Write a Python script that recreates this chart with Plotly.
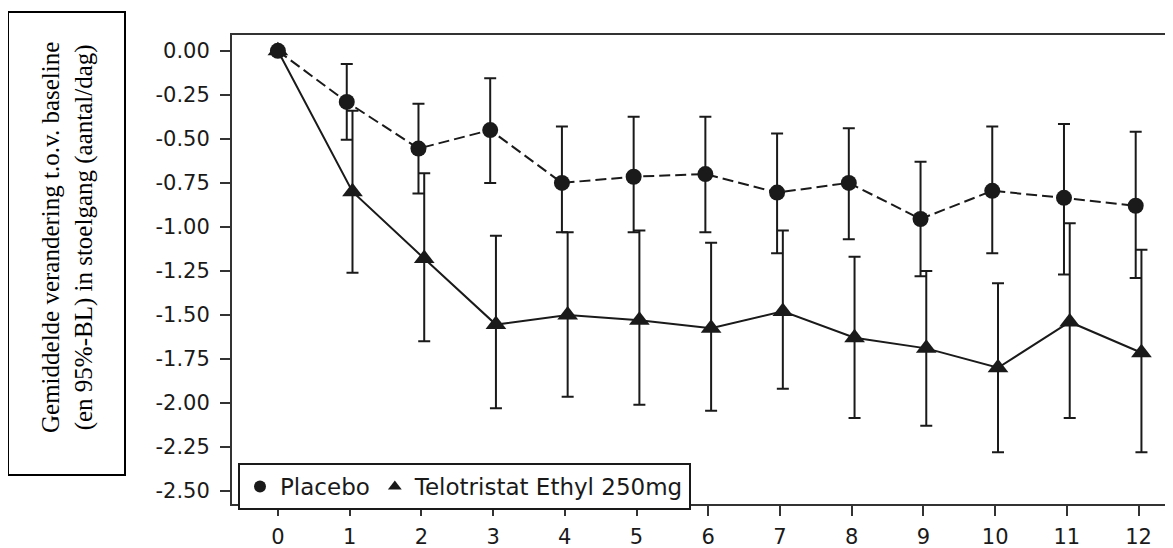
import plotly.graph_objects as go

weeks = [0, 1, 2, 3, 4, 5, 6, 7, 8, 9, 10, 11, 12]

placebo_mean = [0, -0.29, -0.555, -0.45, -0.75, -0.715, -0.70, -0.805, -0.75, -0.955, -0.795, -0.835, -0.88]
placebo_upper = [0, -0.075, -0.30, -0.155, -0.43, -0.375, -0.375, -0.47, -0.44, -0.63, -0.43, -0.415, -0.46]
placebo_lower = [0, -0.505, -0.81, -0.75, -1.03, -1.03, -1.03, -1.15, -1.07, -1.28, -1.15, -1.27, -1.29]

te_mean = [0, -0.80, -1.18, -1.555, -1.50, -1.53, -1.575, -1.48, -1.63, -1.69, -1.80, -1.54, -1.715]
te_upper = [0, -0.34, -0.695, -1.05, -1.03, -1.02, -1.09, -1.02, -1.17, -1.25, -1.32, -0.98, -1.13]
te_lower = [0, -1.26, -1.65, -2.03, -1.965, -2.01, -2.045, -1.92, -2.085, -2.13, -2.28, -2.085, -2.28]

y_ticks = [0.0, -0.25, -0.5, -0.75, -1.0, -1.25, -1.5, -1.75, -2.0, -2.25, -2.5]
y_ticktext = ["0.00", "-0.25", "-0.50", "-0.75", "-1.00", "-1.25", "-1.50", "-1.75", "-2.00", "-2.25", "-2.50"]

names = ["Placebo", "Telotristat Ethyl 250mg"]
y_title = "Gemiddelde verandering t.o.v. baseline<br>(en 95%-BL) in stoelgang (aantal/dag)"

INK = "#1a1a1a"
offset = 0.04

fig = go.Figure()

fig.add_trace(go.Scatter(
    x=[w + (offset if w > 0 else 0) for w in weeks], y=te_mean, mode="lines+markers",
    line=dict(color=INK, width=2),
    marker=dict(symbol="triangle-up", size=18, color=INK),
    error_y=dict(type="data", symmetric=False,
                 array=[u - m for u, m in zip(te_upper, te_mean)],
                 arrayminus=[m - l for l, m in zip(te_lower, te_mean)],
                 color=INK, thickness=2, width=6),
    showlegend=False, hoverinfo="skip"))

fig.add_trace(go.Scatter(
    x=[w - (offset if w > 0 else 0) for w in weeks], y=placebo_mean, mode="lines+markers",
    line=dict(color=INK, width=2, dash="11px,5px"),
    marker=dict(symbol="circle", size=16, color=INK),
    error_y=dict(type="data", symmetric=False,
                 array=[u - m for u, m in zip(placebo_upper, placebo_mean)],
                 arrayminus=[m - l for l, m in zip(placebo_lower, placebo_mean)],
                 color=INK, thickness=2, width=6),
    showlegend=False, hoverinfo="skip"))

# legend entries (markers only)
fig.add_trace(go.Scatter(x=[None], y=[None], mode="markers", name=names[0],
                         marker=dict(symbol="circle", size=16, color=INK)))
fig.add_trace(go.Scatter(x=[None], y=[None], mode="markers", name=names[1],
                         marker=dict(symbol="triangle-up", size=18, color=INK)))

# page has an 8px body margin: work in reference pixels shifted by 8
OFF = 8
W, H = 1173 - OFF, 548 - OFF
L, R, T, B = 232 - OFF, 0, 35 - OFF, 548 - 504
pw, ph = W - L - R, H - T - B

def px(xp):
    return (xp - OFF - L) / pw

def py(yp):
    return (H - B - (yp - OFF)) / ph

fig.update_layout(
    width=W, height=H,
    margin=dict(l=L, r=R, t=T, b=B),
    paper_bgcolor="white", plot_bgcolor="white",
    font=dict(family="DejaVu Sans", color=INK),
    xaxis=dict(range=[-0.64, 12.48], tickvals=weeks, ticktext=[str(w) for w in weeks],
               showgrid=False, zeroline=False, showline=True, linecolor="#333", linewidth=2,
               mirror=True, ticks="outside", ticklen=10, tickwidth=2, tickcolor="#333",
               tickfont=dict(size=21, family="DejaVu Sans", color=INK),
               ticklabelstandoff=3, automargin=False),
    yaxis=dict(range=[-2.574, 0.09], tickvals=y_ticks, ticktext=y_ticktext,
               showgrid=False, zeroline=False, showline=True, linecolor="#333", linewidth=2,
               mirror=False, ticks="outside", ticklen=10, tickwidth=2, tickcolor="#333",
               tickfont=dict(size=21, family="DejaVu Sans", color=INK),
               ticklabelstandoff=6, automargin=False),
    legend=dict(orientation="h", x=px(238), y=py(463), xanchor="left", yanchor="top",
                bordercolor=INK, borderwidth=2, bgcolor="white",
                font=dict(size=23, family="DejaVu Sans", color=INK),
                itemsizing="constant", tracegroupgap=0),
    shapes=[dict(type="rect", xref="paper", yref="paper",
                 x0=px(8), x1=px(125), y0=py(475), y1=py(12),
                 line=dict(color="black", width=2))],
    annotations=[dict(text=y_title, xref="paper", yref="paper",
                      x=px(67), y=py(238), xanchor="center", yanchor="middle",
                      textangle=-90, showarrow=False,
                      font=dict(family="Liberation Serif", size=25, color="black"))],
)

fig.write_html("out.html")
